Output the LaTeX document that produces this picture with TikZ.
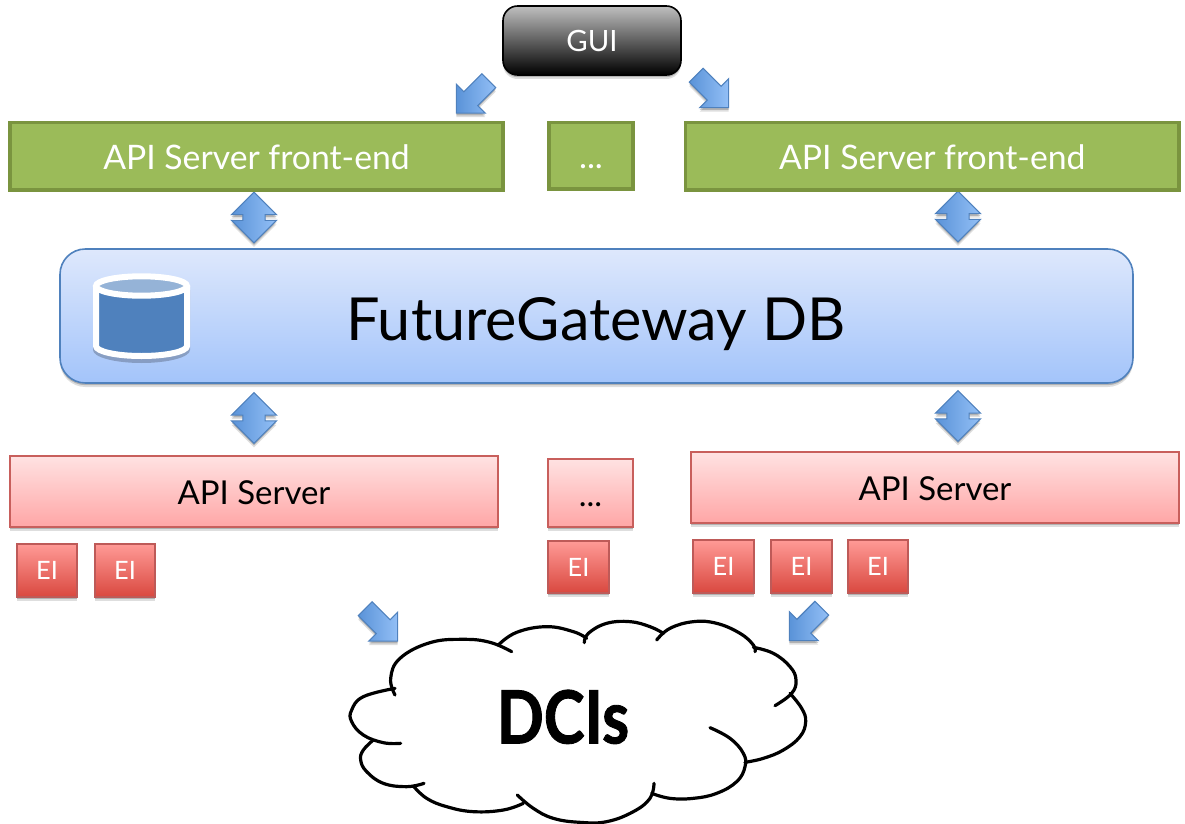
\documentclass[tikz,border=0pt]{standalone}
\usepackage{fontspec}
\setmainfont{Lato}
\newfontfamily\dcifont[BoldFeatures={FakeStretch=0.84,FakeBold=1.2}]{Lato}
\usetikzlibrary{shapes.arrows,shadows}
\definecolor{arrowdark}{HTML}{5A93D8}
\definecolor{arrowlight}{HTML}{93BFF6}
\definecolor{arrowline}{HTML}{4F81BD}
\tikzset{
  softshadow/.style={drop shadow={shadow xshift=0pt,shadow yshift=-3pt,opacity=.13,fill=black},drop shadow={shadow xshift=0pt,shadow yshift=-1.6pt,opacity=.2,fill=black}},
  basebox/.style={rectangle,inner sep=0pt,outer sep=0pt,align=center,text depth=0pt},
  guibox/.style={basebox,text height=15.8pt,rounded corners=11pt,draw=black,line width=1.2pt,top color=black!25,bottom color=black,text=white,font=\fontsize{22}{22}\selectfont,softshadow},
  greenbox/.style={basebox,text height=19.5pt,draw={rgb,255:red,122;green,148;blue,63},fill={rgb,255:red,155;green,187;blue,89},line width=2.6pt,text=white,font=\fontsize{25.3}{25}\selectfont},
  dbbox/.style={basebox,rounded corners=19pt,draw=arrowline,line width=1.2pt,top color={rgb,255:red,222;green,232;blue,252},bottom color={rgb,255:red,163;green,196;blue,250},softshadow},
  dbtextstyle/.style={text=black,inner sep=0pt,text height=32pt,text depth=0pt,font=\fontsize{44.5}{44}\selectfont},
  pinkbox/.style={basebox,text height=20pt,draw={rgb,255:red,200;green,95;blue,92},line width=1.5pt,top color={rgb,255:red,255;green,226;blue,226},bottom color={rgb,255:red,255;green,166;blue,166},softshadow,text=black,font=\fontsize{24.7}{25}\selectfont},
  eibox/.style={basebox,text height=13.7pt,draw={rgb,255:red,190;green,90;blue,88},line width=1.5pt,top color={rgb,255:red,255;green,154;blue,150},bottom color={rgb,255:red,217;green,72;blue,63},softshadow,text=white,font=\fontsize{19}{19}\selectfont},
  dblarrow/.style={double arrow,rotate=90,minimum height=38pt,double arrow head extend=8.6pt,inner sep=0pt,outer sep=0pt,draw=arrowline,line width=.8pt,left color=arrowdark,right color=arrowlight,softshadow},
  sglarrow/.style={single arrow,minimum height=34.5pt,single arrow head extend=8.1pt,inner sep=0pt,outer sep=0pt,draw=arrowline,line width=.8pt,left color=arrowdark,right color=arrowlight,softshadow},
  cloudline/.style={draw=black,line width=2.4pt,line cap=round},
}
\newcommand{\pxbox}[7]{\node[#6,minimum width={(#4-#2)*0.75pt},minimum height={(#5-#3)*0.75pt}] (#1) at ({(#2+#4)/2},{(#3+#5)/2}) {#7};}
\newcommand{\dblshaft}{\rule{0pt}{15.8pt}}
\newcommand{\sglshaft}{\rule{0pt}{13.8pt}}
\begin{document}
\begin{tikzpicture}[x=0.75pt,y=-0.75pt]
\useasboundingbox (0,0) rectangle (1185,824);
% arrows
\node[sglarrow,rotate=-135] (aGuiL) at (476,93.5) {\sglshaft};
\node[sglarrow,rotate=-45] (aGuiR) at (709,88) {\sglshaft};
\node[dblarrow] (aFeL) at (254,217.5) {\dblshaft};
\node[dblarrow] (aFeR) at (958,216.5) {\dblshaft};
\node[dblarrow] (aApiL) at (254,418) {\dblshaft};
\node[dblarrow] (aApiR) at (958,416) {\dblshaft};
\node[sglarrow,rotate=-45] (aCloudL) at (378,621.5) {\sglshaft};
\node[sglarrow,rotate=-135] (aCloudR) at (809,621) {\sglshaft};
% boxes
\pxbox{gui}{503}{6}{681}{75}{guibox}{GUI}
\pxbox{feL}{10}{122.5}{503}{190}{greenbox}{API Server front-end}
\pxbox{feM}{549}{122.5}{633}{189}{greenbox}{...}
\pxbox{feR}{685.5}{122.5}{1179}{190}{greenbox}{API Server front-end}
\pxbox{db}{60}{249}{1133}{383}{dbbox}{}
\node[dbtextstyle] (dbtext) at (596,319) {FutureGateway DB};
\pxbox{apiL}{10}{456}{498}{527}{pinkbox}{API Server}
\pxbox{apiM}{548}{459}{633}{527}{pinkbox}{...}
\pxbox{apiR}{691}{452}{1179}{523}{pinkbox}{API Server}
\pxbox{eiA}{17}{544}{77}{597}{eibox}{EI}
\pxbox{eiB}{95}{544}{155}{597}{eibox}{EI}
\pxbox{eiC}{548}{541}{609}{593}{eibox}{EI}
\pxbox{eiD}{693}{540}{754}{593}{eibox}{EI}
\pxbox{eiE}{771}{540}{832}{593}{eibox}{EI}
\pxbox{eiF}{848}{540}{908}{593}{eibox}{EI}
% cylinder
\fill[black,opacity=.22] (93,290) -- (93,350) arc[start angle=180,end angle=0,x radius=48.5,y radius=13] -- (190,290) -- cycle;
\draw[line width=4.5pt,white,fill={rgb,255:red,79;green,129;blue,189}] (96,286) -- (96,346) arc[start angle=180,end angle=0,x radius=45.5,y radius=10] -- (187,286);
\draw[line width=4.5pt,white,fill={rgb,255:red,149;green,179;blue,215}] (141.5,286) circle[x radius=45.5,y radius=9.7];
% cloud
\begin{scope}[shift={(340,590)},x=0.25pt,y=-0.25pt]
\draw[cloudline] plot[smooth,tension=.7] coordinates {(165,315) (152,265) (180,205) (270,158) (370,148) (450,157) (515,185)};
\draw[cloudline] plot[smooth,tension=.7] coordinates {(475,165) (530,127) (620,110) (700,125) (740,145)};
\draw[cloudline] plot[smooth,tension=.7] coordinates {(733,158) (745,130) (800,100) (870,95) (930,110) (970,130)};
\draw[cloudline] plot[smooth,tension=.7] coordinates {(950,150) (990,115) (1060,95) (1130,100) (1200,130) (1240,165) (1245,185)};
\draw[cloudline] plot[smooth,tension=.7] coordinates {(1240,172) (1300,190) (1350,230) (1368,270) (1355,310) (1305,347)};
\draw[cloudline] plot[smooth,tension=.7] coordinates {(1350,310) (1385,355) (1397,395) (1380,440) (1330,480) (1270,505) (1215,517)};
\draw[cloudline] plot[smooth,tension=.7] coordinates {(1110,413) (1170,445) (1210,490) (1215,530) (1190,575) (1130,610) (1060,625) (990,625) (935,610)};
\draw[cloudline] plot[smooth,tension=.7] coordinates {(942,580) (930,625) (880,665) (800,695) (720,697) (640,685) (580,655) (532,615)};
\draw[cloudline] plot[smooth,tension=.7] coordinates {(550,640) (490,660) (400,665) (320,650) (260,625) (220,588)};
\draw[cloudline] plot[smooth,tension=.7] coordinates {(252,580) (200,590) (130,580) (80,545) (62,510) (70,480) (100,450)};
\draw[cloudline] plot[smooth,tension=.7] coordinates {(182,460) (130,458) (70,435) (35,395) (35,360) (70,320) (165,295)};
\end{scope}
\node[font=\dcifont\fontsize{55}{55}\selectfont\bfseries,text=black,inner sep=0pt,text height=39.6pt,text depth=0pt] (dci) at (563,717) {DCIs};
\end{tikzpicture}
\end{document}
